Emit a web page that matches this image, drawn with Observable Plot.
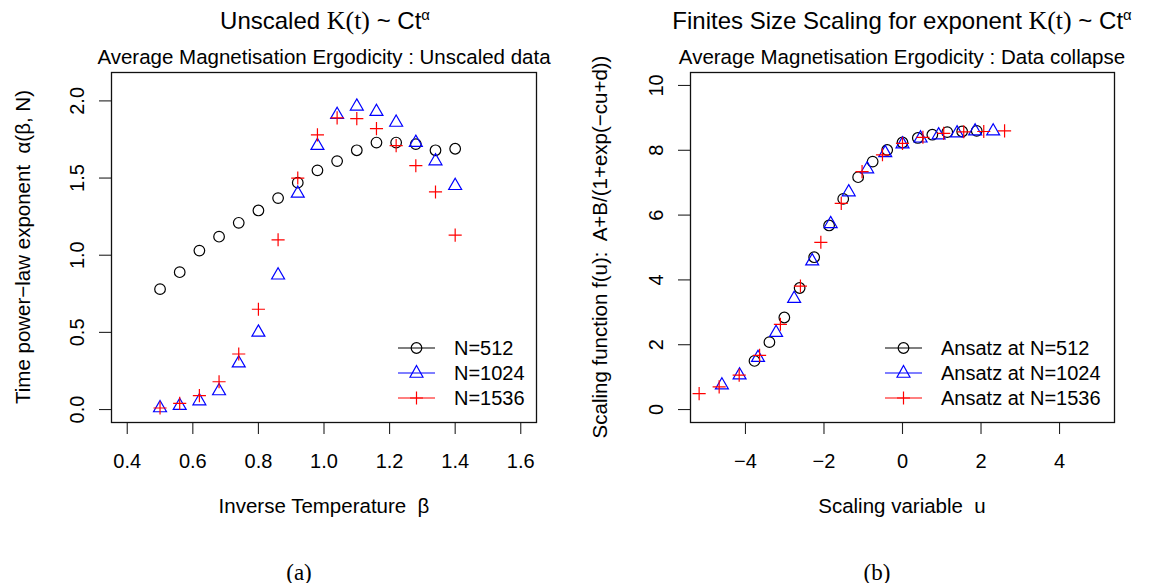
<!DOCTYPE html>
<html><head><meta charset="utf-8">
<script src="https://cdn.jsdelivr.net/npm/d3@7"></script>
<script src="https://cdn.jsdelivr.net/npm/@observablehq/plot@0.6"></script>
<style>
body{margin:0;background:#fff;}
#wrap{position:relative;width:1159px;height:583px;overflow:hidden;font-family:"Liberation Sans",Arial,sans-serif;color:#000;background:#fff;}
#wrap svg{position:absolute;left:0;top:0;}
.t{position:absolute;white-space:nowrap;line-height:1;}
.serif{font-family:"Liberation Serif","DejaVu Serif",serif;font-size:1.08em;}
sup{font-size:0.62em;vertical-align:0;position:relative;top:-0.62em;}
.leg{position:absolute;display:flex;align-items:center;height:24px;font-size:20px;white-space:nowrap;}
.leg svg{position:static !important;margin-right:19px;}
</style></head><body><div id="wrap"></div>
<script>
// ---------- data: panel (a) ----------
const betaA = [0.50,0.56,0.62,0.68,0.74,0.80,0.86,0.92,0.98,1.04,1.10,1.16,1.22,1.28,1.34,1.40];
const alpha512  = [0.78,0.89,1.03,1.12,1.21,1.29,1.37,1.47,1.55,1.61,1.68,1.73,1.73,1.72,1.68,1.69];
const alpha1024 = [0.01,0.025,0.055,0.12,0.30,0.50,0.87,1.40,1.71,1.91,1.965,1.93,1.86,1.73,1.61,1.45];
const alpha1536 = [0.01,0.04,0.09,0.18,0.36,0.65,1.10,1.50,1.78,1.89,1.885,1.82,1.71,1.58,1.41,1.13];
const xTicksA = [0.4,0.6,0.8,1.0,1.2,1.4,1.6];
const yTicksA = [0,0.5,1.0,1.5,2.0];
// ---------- data: panel (b) ----------
const u512  = [-3.77,-3.39,-3.01,-2.62,-2.25,-1.87,-1.51,-1.13,-0.76,-0.39,0.00,0.39,0.76,1.14,1.52,1.89];
const f512  = [1.50,2.08,2.84,3.75,4.70,5.68,6.50,7.17,7.65,8.01,8.24,8.38,8.48,8.56,8.58,8.60];
const u1024 = [-4.60,-4.15,-3.68,-3.22,-2.76,-2.30,-1.83,-1.37,-0.90,-0.44,0.00,0.46,0.92,1.39,1.85,2.31];
const f1024 = [0.75,1.06,1.60,2.37,3.42,4.58,5.73,6.71,7.42,7.92,8.19,8.37,8.47,8.53,8.59,8.59];
const u1536 = [-5.18,-4.67,-4.16,-3.64,-3.11,-2.60,-2.08,-1.56,-1.03,-0.51,0.00,0.52,1.05,1.56,2.07,2.60];
const f1536 = [0.49,0.70,1.06,1.67,2.63,3.81,5.16,6.36,7.34,7.86,8.21,8.40,8.52,8.57,8.58,8.60];
const xTicksB = [-4,-2,0,2,4];
const yTicksB = [0,2,4,6,8,10];
// ---------- series ----------
const seriesNames = ["N=512","N=1024","N=1536"];
const legendNamesB = ["Ansatz at N=512","Ansatz at N=1024","Ansatz at N=1536"];
const seriesColors = ["#000000","#0000ff","#ff0000"];
const seriesSymbols = ["circle","triangle","plus"];
const seriesR = [5.3,4.8,4.3];

const wrap = document.getElementById("wrap");
const FONT = "'Liberation Sans', Arial, sans-serif";
const minus = d => (d < 0 ? "\u2212" + Math.abs(d) : String(d));

function rows(xs, ys) { return xs.map((x, i) => ({x, y: ys[i]})); }

function panel({xDomain, yDomain, xTicks, yTicks, xFmt, yFmt, left, right, series}) {
  return Plot.plot({
    width: right + 45, height: 583,
    marginLeft: left, marginRight: 45, marginTop: 72, marginBottom: 161,
    style: {fontFamily: FONT, fontSize: "20px", background: "transparent", color: "#000", overflow: "visible"},
    x: {domain: xDomain},
    y: {domain: yDomain},
    marks: [
      Plot.axisX(xTicks, {tickSize: 12, tickPadding: 19, tickFormat: xFmt, label: null, fontSize: 20, stroke: "#222", strokeWidth: 1.1}),
      Plot.axisY(yTicks, {tickSize: 12, tickPadding: 16, tickRotate: -90, tickFormat: yFmt, label: null, fontSize: 20, stroke: "#222", strokeWidth: 1.1}),
      ...series.map((s, i) => Plot.dot(s, {x: "x", y: "y", symbol: seriesSymbols[i], r: seriesR[i], stroke: seriesColors[i], fill: "none", strokeWidth: 1.2})),
      Plot.frame({stroke: "#111", strokeWidth: 1.3})
    ]
  });
}

const plotA = panel({
  xDomain: [0.352, 1.648], yDomain: [-0.084, 2.184],
  xTicks: xTicksA, yTicks: yTicksA,
  xFmt: d => d.toFixed(1), yFmt: d => d.toFixed(1),
  left: 111, right: 536,
  series: [rows(betaA, alpha512), rows(betaA, alpha1024), rows(betaA, alpha1536)]
});
const plotB = panel({
  xDomain: [-5.4, 5.4], yDomain: [-0.4, 10.4],
  xTicks: xTicksB, yTicks: yTicksB,
  xFmt: minus, yFmt: minus,
  left: 690, right: 1114,
  series: [rows(u512, f512), rows(u1024, f1024), rows(u1536, f1536)]
});
wrap.appendChild(plotA);
wrap.appendChild(plotB);

// ---------- texts ----------
function addText(html, x, y, size, extra = "", rotate = false) {
  const d = document.createElement("div");
  d.className = "t";
  d.innerHTML = html;
  d.style.left = x + "px";
  d.style.top = y + "px";
  d.style.fontSize = size + "px";
  d.style.transform = rotate ? "translate(-50%,-50%) rotate(-90deg)" : "translate(-50%,-50%)";
  if (extra) d.style.cssText += extra;
  wrap.appendChild(d);
  return d;
}
addText('Unscaled <span class="serif">K(t)</span> ~ Ct<sup>\u03b1</sup>', 325, 21, 24);
addText('Finites Size Scaling for exponent <span class="serif">K(t)</span> ~ Ct<sup>\u03b1</sup>', 902, 21, 24);
addText('Average Magnetisation Ergodicity : Unscaled data', 324, 57, 20.5);
addText('Average Magnetisation Ergodicity : Data collapse', 902, 57, 20.5);
addText('Inverse Temperature&nbsp; \u03b2', 324, 506, 20.5);
addText('Scaling variable&nbsp; u', 902, 506, 20.5);
addText('Time power\u2212law exponent&nbsp; \u03b1(\u03b2, N)', 23, 247, 20.5, "", true);
addText('Scaling function f(u):&nbsp; A+B/(1+exp(\u2212cu+d))', 600, 247, 20.5, "", true);
addText('(a)', 299, 572, 23, "font-family:'Liberation Serif','DejaVu Serif',serif;");
addText('(b)', 877, 572, 23, "font-family:'Liberation Serif','DejaVu Serif',serif;");

// ---------- legends ----------
function symbolPath(i) {
  if (seriesSymbols[i] === "circle") return `<circle cx="18.5" cy="12" r="5.3" fill="none" stroke="${seriesColors[i]}" stroke-width="1.2"/>`;
  if (seriesSymbols[i] === "triangle") return `<path d="M18.5,4.5L24.99,16.25L12.01,16.25Z" fill="none" stroke="${seriesColors[i]}" stroke-width="1.2"/>`;
  return `<path d="M12,12H25M18.5,5.5V18.5" fill="none" stroke="${seriesColors[i]}" stroke-width="1.2"/>`;
}
function legend(names, x, ys) {
  names.forEach((name, i) => {
    const d = document.createElement("div");
    d.className = "leg";
    d.style.left = x + "px";
    d.style.top = (ys[i] - 12) + "px";
    d.innerHTML = `<svg width="37" height="24" viewBox="0 0 37 24"><line x1="0" y1="12" x2="37" y2="12" stroke="${seriesColors[i]}" stroke-width="1.2"/>${symbolPath(i)}</svg><span>${name}</span>`;
    wrap.appendChild(d);
  });
}
legend(seriesNames, 398, [348, 373, 398]);
legend(legendNamesB, 885, [348, 373, 398]);
</script></body></html>
